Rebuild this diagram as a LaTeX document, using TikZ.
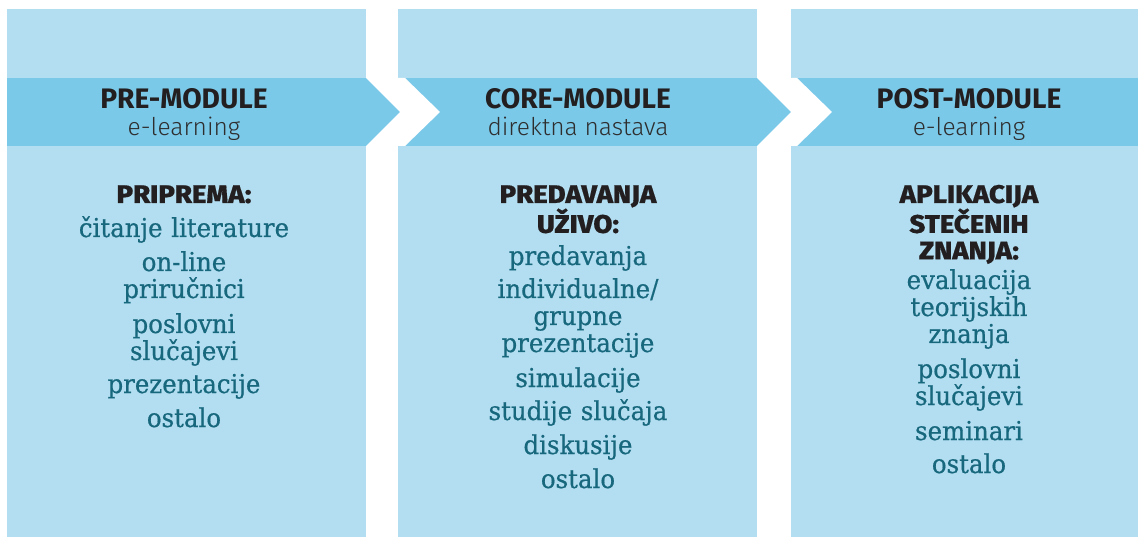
\documentclass[tikz,border=0pt]{standalone}
\usepackage{fontspec}
\usepackage{tikz}
\usetikzlibrary{positioning}
\newfontfamily\headfont{Fira Sans}
\newfontfamily\lightfont{Fira Sans Light}
\newfontfamily\heavyfont{Fira Sans ExtraBold}[FakeStretch=1.08, FakeBold=0.5]
\newfontfamily\bodyfont{DejaVu Serif}[FakeStretch=0.94, FakeBold=0.6]
\definecolor{colbg}{HTML}{B3DEF1}
\definecolor{colband}{HTML}{7BC9E9}
\definecolor{colteal}{HTML}{17677D}
\definecolor{colink}{HTML}{231F20}
\definecolor{colgrey}{HTML}{2E2E2E}
\tikzset{
  modtitle/.style={anchor=base, inner sep=0pt, text=colink, font=\headfont\bfseries\fontsize{28.2}{30}\selectfont},
  modsub/.style={anchor=base, inner sep=0pt, text=colgrey, font=\lightfont\fontsize{24.5}{26}\selectfont},
  listhead/.style={anchor=base, inner sep=0pt, text=colink, align=center, text width=240pt, font=\heavyfont\fontsize{25.5}{26.5}\selectfont},
  listitem/.style={anchor=base, inner sep=0pt, text=colteal, align=center, text width=300pt, font=\bodyfont\fontsize{26}{27}\selectfont}
}
\begin{document}
\begin{tikzpicture}[x=1pt, y=-1pt]
    \useasboundingbox (0,0) rectangle (1138,537);

    % Module columns
    \foreach \xl/\xr in {7/366, 398/757, 791/1138} {
        \fill[colbg] (\xl,9) rectangle (\xr,537);
    }

    % Band across the columns
    \fill[colband] (7,78) rectangle (1138,146);

    % White chevrons between the modules
    \foreach \xa/\xb in {366/405, 757/797} {
        \fill[white] (\xa,78) -- (\xa+34,112) -- (\xa,146)
            -- (\xb,146) -- (\xb+35,112) -- (\xb,78) -- cycle;
    }

    % Band labels
    \node[modtitle] (pre-title)  at (184,109) {PRE-MODULE};
    \node[modsub]   (pre-sub)    at (184,136) {e-learning};
    \node[modtitle] (core-title) at (578,109) {CORE-MODULE};
    \node[modsub]   (core-sub)   at (578,136) {direktna nastava};
    \node[modtitle] (post-title) at (969,109) {POST-MODULE};
    \node[modsub]   (post-sub)   at (969,136) {e-learning};

    % Pre-module contents
    \node[listhead] (pre-head) at (184,203) {PRIPREMA:};
    \foreach \t/\y [count=\i] in {{čitanje literature}/237, {on-line\\priručnici}/271,
        {poslovni\\slučajevi}/333, {prezentacije}/393, {ostalo}/427} {
        \node[listitem] (pre-item\i) at (184,\y) {\t};
    }

    % Core-module contents
    \node[listhead] (core-head) at (578,203) {PREDAVANJA\\UŽIVO:};
    \foreach \t/\y [count=\i] in {{predavanja}/265, {individualne/\\grupne\\prezentacije}/298,
        {simulacije}/387, {studije slučaja}/420, {diskusije}/454, {ostalo}/488} {
        \node[listitem] (core-item\i) at (578,\y) {\t};
    }

    % Post-module contents
    \node[listhead] (post-head) at (969,203) {APLIKACIJA\\STEČENIH\\ZNANJA:};
    \foreach \t/\y [count=\i] in {{evaluacija\\teorijskih\\znanja}/289,
        {poslovni\\slučajevi}/378, {seminari}/440, {ostalo}/473} {
        \node[listitem] (post-item\i) at (969,\y) {\t};
    }
\end{tikzpicture}
\end{document}
